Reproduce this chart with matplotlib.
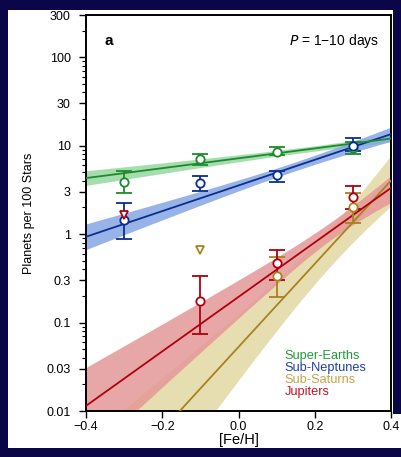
import numpy as np
import matplotlib
matplotlib.use("Agg")
import matplotlib.pyplot as plt
from matplotlib.patches import Rectangle

plt.rcParams['font.family'] = ['Liberation Sans', 'DejaVu Sans']

names = ['Super-Earths', 'Sub-Neptunes', 'Sub-Saturns', 'Jupiters']
line_colors = ['#1e8a2e', '#0b2f8f', '#a8821e', '#b0000f']
band_colors = ['#96d8a0', '#86a6e4', '#e2d8a4', '#e49898']
text_colors = ['#1f9a3a', '#1f3fa8', '#c9a04a', '#c01525']

# fits: log10 f = a + b*[Fe/H]; band half width sqrt(sa^2 + sb^2 (x-x0)^2)
fit_a = [0.857, 0.55, -1.276, -0.71]
fit_b = [0.559, 1.45, 4.7, 3.08]
band_x0 = [0.2, 0.15, 0.25, 0.25]
band_sa = [0.03, 0.05, 0.22, 0.1]
band_sb_up = [0.129, 0.247, 1.22, 0.65]
band_sb_dn = [0.129, 0.247, 1.22, 0.87]

# binned occurrence with error bars
pts_x = [[-0.3, -0.1, 0.1, 0.3],
         [-0.3, -0.1, 0.1, 0.3],
         [0.1, 0.3],
         [-0.1, 0.1, 0.3]]
pts_y = [[3.9, 7.0, 8.5, 9.4],
         [1.44, 3.8, 4.65, 9.97],
         [0.337, 2.03],
         [0.176, 0.466, 2.64]]
pts_lo = [[2.88, 6.03, 7.82, 7.96],
          [0.877, 3.09, 3.9, 8.75],
          [0.195, 1.32],
          [0.0733, 0.301, 1.9]]
pts_hi = [[5.16, 7.96, 9.71, 11.06],
          [2.22, 4.56, 5.2, 12.08],
          [0.553, 2.93],
          [0.337, 0.659, 3.52]]
# upper limits
lim_x = [[], [], [-0.1], [-0.3]]
lim_y = [[], [], [0.66], [1.64]]

fig = plt.figure(figsize=(4.02, 4.57), dpi=100)
fig.patch.set_facecolor('#0a0648')
fig.patches.append(Rectangle((8 / 402, 1 - 448 / 457), 385 / 402, 438 / 457,
                             transform=fig.transFigure, facecolor='white',
                             edgecolor='none', zorder=-5))
fig.patches.append(Rectangle((8 / 402, 1 - 448 / 457), 393 / 402, 34 / 457,
                             transform=fig.transFigure, facecolor='white',
                             edgecolor='none', zorder=-5))
ax = fig.add_axes([86 / 402, 46 / 457, 305 / 402, 396 / 457])
ax.set_zorder(2)
ax.set_facecolor('white')

xs = np.linspace(-0.4, 0.4, 300)
order = [2, 3, 1, 0]
for i in order:
    mid = fit_a[i] + fit_b[i] * xs
    d2 = (xs - band_x0[i]) ** 2
    up = np.sqrt(band_sa[i] ** 2 + band_sb_up[i] ** 2 * d2)
    dn = np.sqrt(band_sa[i] ** 2 + band_sb_dn[i] ** 2 * d2)
    ax.fill_between(xs, 10 ** (mid - dn), 10 ** (mid + up), color=band_colors[i],
                    alpha=0.85, lw=0, zorder=1 + i * 0.1)
for i in order:
    mid = fit_a[i] + fit_b[i] * xs
    ax.plot(xs, 10 ** mid, color=line_colors[i], lw=1.3, zorder=3)

for i in range(4):
    y = np.array(pts_y[i])
    err = [y - np.array(pts_lo[i]), np.array(pts_hi[i]) - y]
    ax.errorbar(pts_x[i], y, yerr=err, fmt='o', color=line_colors[i],
                mfc='white', mec=line_colors[i], ms=6, mew=1.3,
                elinewidth=1.3, capsize=6, capthick=1.3, zorder=5)
    if lim_x[i]:
        ax.plot(lim_x[i], lim_y[i], 'v', mfc='white', mec=line_colors[i],
                ms=6, mew=1.3, zorder=6)

ax.set_yscale('log')
ax.set_xlim(-0.4, 0.4)
ax.set_ylim(0.01, 300)
yt = [0.01, 0.03, 0.1, 0.3, 1, 3, 10, 30, 100, 300]
ax.set_yticks(yt)
ax.set_yticklabels(['0.01', '0.03', '0.1', '0.3', '1', '3', '10', '30', '100', '300'])
ax.set_xticks([-0.4, -0.2, 0.0, 0.2, 0.4])
ax.set_xticklabels(['\u22120.4', '\u22120.2', '0.0', '0.2', '0.4'])
ax.tick_params(axis='both', which='major', direction='out', length=5, width=1,
               labelsize=9, colors='black')
ax.tick_params(axis='y', which='major', pad=6)
ax.tick_params(axis='x', which='major', pad=2)
ax.tick_params(axis='y', which='minor', direction='out', length=3, width=0.8)
for s in ax.spines.values():
    s.set_linewidth(1.4)

ax.set_xlabel('[Fe/H]', fontsize=10.5)
ax.xaxis.set_label_coords(0.5, -0.056)
ax.set_ylabel('Planets per 100 Stars', fontsize=9, labelpad=8)

ax.text(0.06, 0.935, 'a', transform=ax.transAxes, fontsize=11, fontweight='bold',
        va='center')
ax.text(0.96, 0.935, '$\\it{P}$ = 1\u221210 days', transform=ax.transAxes,
        fontsize=10, ha='right', va='center')

for i, name in enumerate(names):
    ax.text(0.652, 0.14 - i * 0.031, name, transform=ax.transAxes,
            color=text_colors[i], fontsize=9.2, va='center', zorder=7)

fig.savefig('out.png', dpi=100, facecolor=fig.get_facecolor())
